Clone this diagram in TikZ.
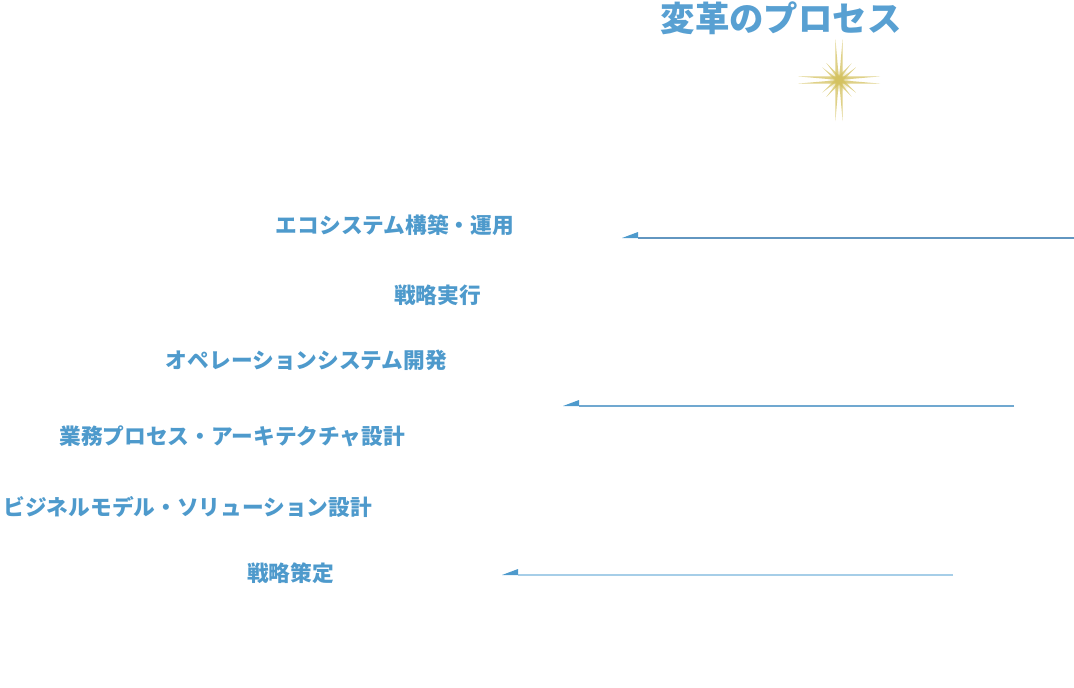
\documentclass[tikz,border=0pt]{standalone}
\usepackage{fontspec}
\newfontfamily\jpfont{Noto Sans CJK JP}
\usetikzlibrary{arrows.meta}
\definecolor{stepblue}{RGB}{78,154,204}
\definecolor{titleblue}{RGB}{88,160,210}
\definecolor{sparkgold}{RGB}{212,194,96}
\definecolor{lineA}{RGB}{98,150,192}
\definecolor{lineB}{RGB}{112,168,208}
\definecolor{lineC}{RGB}{166,206,232}
\begin{document}
\begin{tikzpicture}[
  x=1pt, y=-1pt,
  every node/.style={inner sep=0pt, outer sep=0pt},
  steplabel/.style={anchor=east, text=stepblue, font=\jpfont\bfseries\fontsize{21.7}{24}\selectfont},
  flowline/.style={line width=1.6pt, -{Triangle[harpoon, swap, length=16pt, width=12pt, fill=stepblue, line width=0pt]}}
]
  \useasboundingbox (0,0) rectangle (1074,688);

  % title and sparkle
  \node[text=titleblue, font=\jpfont\bfseries\fontsize{34.4}{38}\selectfont] (title) at (781,18) {変革のプロセス};
  \coordinate (spark) at (839,80);
  \shade[inner color=sparkgold!80!white, outer color=white] (spark) circle (12);
  \foreach \ang/\len/\wid in {0/41/3.6, 90/41/3.6, 180/41/3.6, 270/41/3.6,
                              45/21/3, 135/21/3, 225/21/3, 315/21/3} {
    \fill[sparkgold, opacity=0.75] (spark) -- ++(\ang+90:\wid) -- ++(\ang:\len) -- cycle;
    \fill[sparkgold, opacity=0.75] (spark) -- ++(\ang-90:\wid) -- ++(\ang:\len) -- cycle;
  }
  \fill[sparkgold] (spark) circle (3);

  % steps
  \node[steplabel] (eco) at (514,225) {エコシステム構築・運用};
  \node[steplabel] (exec) at (481,295) {戦略実行};
  \node[steplabel] (ops) at (447,360) {オペレーションシステム開発};
  \node[steplabel] (arch) at (405,436) {業務プロセス・アーキテクチャ設計};
  \node[steplabel] (biz) at (372,507) {ビジネルモデル・ソリューション設計};
  \node[steplabel] (plan) at (334,573) {戦略策定};

  % arrows
  \coordinate (a1) at (1074,238);
  \coordinate (b1) at (622,238);
  \coordinate (a2) at (1014,406);
  \coordinate (b2) at (563,406);
  \coordinate (a3) at (953,575);
  \coordinate (b3) at (502,575);

  \draw[flowline, lineA] (a1) -- (b1);
  \draw[flowline, lineB] (a2) -- (b2);
  \draw[flowline, lineC, line width=2pt] (a3) -- (b3);
\end{tikzpicture}
\end{document}
